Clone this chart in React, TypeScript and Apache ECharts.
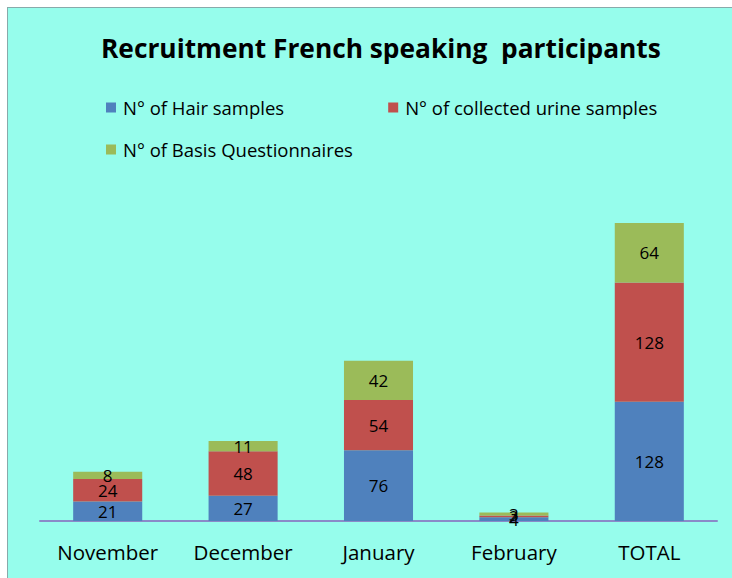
import React, { useEffect, useRef } from "react";
import * as echarts from "echarts";

const categories = ["November", "December", "January", "February", "TOTAL"];
const hairSamples = [21, 27, 76, 4, 128];
const urineSamples = [24, 48, 54, 2, 128];
const questionnaires = [8, 11, 42, 3, 64];
const seriesNames = ["N° of Hair samples", "N° of collected urine samples", "N° of Basis Questionnaires"];

export default function App() {
  const ref = useRef<HTMLDivElement>(null);
  useEffect(() => {
    const chart = echarts.init(ref.current!, null, { renderer: "svg" });
    const font = "Open Sans, Noto Sans, sans-serif";
    const label = { show: true, position: "inside", color: "#000", fontSize: 17, fontFamily: font };
    chart.setOption({
      animation: false,
      backgroundColor: "transparent",
      title: {
        text: "Recruitment French speaking  participants",
        left: 88,
        top: 30,
        textStyle: { fontSize: 26.3, fontWeight: "bold", color: "#000", fontFamily: font },
      },
      legend: [
        {
          data: [seriesNames[0], seriesNames[1]],
          left: 93,
          top: 93,
          itemWidth: 10,
          itemHeight: 10,
          itemGap: 104,
          icon: "rect",
          textStyle: { fontSize: 18.5, color: "#000", fontFamily: font, padding: [0, 0, 0, 2] },
        },
        {
          data: [seriesNames[2]],
          left: 93,
          top: 135,
          itemWidth: 10,
          itemHeight: 10,
          icon: "rect",
          textStyle: { fontSize: 18.5, color: "#000", fontFamily: font, padding: [0, 0, 0, 2] },
        },
      ],
      grid: { left: 32, right: 15, top: 195, bottom: 57, containLabel: false },
      xAxis: {
        type: "category",
        data: categories,
        axisLine: { lineStyle: { color: "#8a8ac8", width: 2 } },
        axisTick: { show: false },
        axisLabel: { color: "#000", fontSize: 20.5, fontFamily: font, margin: 20 },
      },
      yAxis: { type: "value", min: 0, max: 350, show: false, splitLine: { show: false } },
      series: [
        { name: seriesNames[0], type: "bar", stack: "a", data: hairSamples, barWidth: "51%", itemStyle: { color: "#4f81bd" }, label },
        { name: seriesNames[1], type: "bar", stack: "a", data: urineSamples, itemStyle: { color: "#c0504d" }, label },
        { name: seriesNames[2], type: "bar", stack: "a", data: questionnaires, itemStyle: { color: "#9bbb59" }, label },
      ],
    });
    return () => chart.dispose();
  }, []);
  return (
    <div style={{ position: "fixed", left: 0, top: 0, width: 732, height: 578, background: "#fff" }}>
      <div
        style={{
          position: "absolute",
          left: 7,
          top: 7,
          width: 740,
          height: 590,
          background: "#96fdec",
          borderLeft: "1px solid #8aa",
          borderTop: "1px solid #8aa",
        }}
      />
      <div ref={ref} style={{ position: "absolute", left: 8, top: 0, width: 724, height: 578 }} />
    </div>
  );
}
